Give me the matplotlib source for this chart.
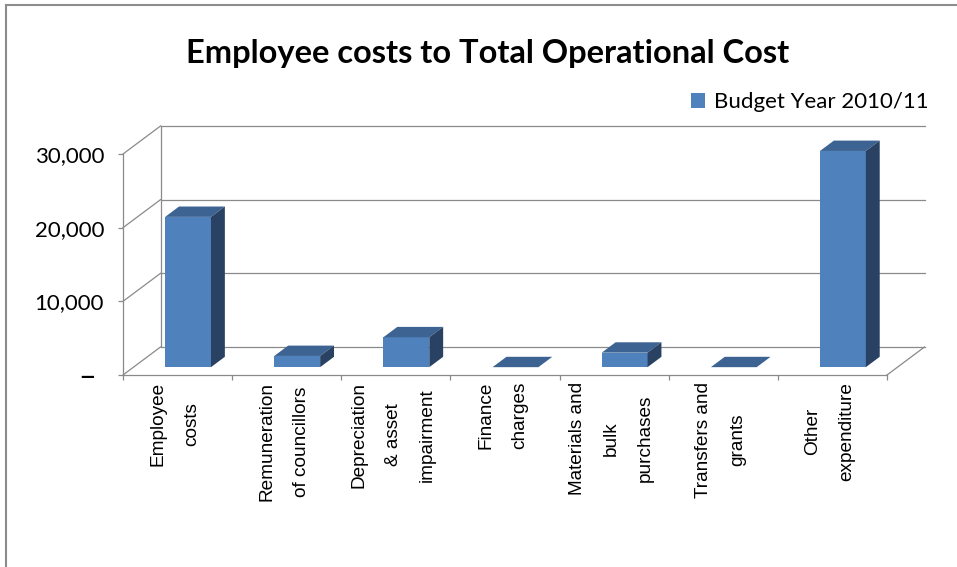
import numpy as np
import matplotlib.pyplot as plt
from matplotlib.patches import Polygon
from matplotlib.lines import Line2D

categories = ["Employee\ncosts", "Remuneration\nof councillors",
              "Depreciation\n& asset\nimpairment", "Finance\ncharges",
              "Materials and\nbulk\npurchases", "Transfers and\ngrants",
              "Other\nexpenditure"]
budget_2010_11 = [20400, 1520, 4060, 0, 1970, 0, 29350]
y_ticks = [0, 10000, 20000, 30000]
y_ticklabels = ["– ", "10,000", "20,000", "30,000"]

FRONT = "#4F81BD"
TOP = "#3C6391"
SIDE = "#294263"
GRID = "#8a8a8a"

W, H = 957, 567
fig = plt.figure(figsize=(W / 100, H / 100), dpi=100)
ax = fig.add_axes([123 / W, 1 - 375 / H, 764 / W, 221 / H])
n = len(categories)
ax.set_xlim(0, n)
ax.set_ylim(0, 30000)

# depth of the fake 3d box, in data units
DX = 37.5 / (764 / n)
DY = 28 / 221 * 30000

# back wall gridlines and left wall diagonals
for v in y_ticks:
    ax.add_line(Line2D([DX, n + DX], [v + DY, v + DY], color=GRID, lw=0.9, clip_on=False))
    ax.add_line(Line2D([0, DX], [v, v + DY], color=GRID, lw=0.9, clip_on=False))
ax.add_line(Line2D([DX, DX], [DY, 30000 + DY], color=GRID, lw=0.9, clip_on=False))
ax.add_line(Line2D([n, n + DX], [0, DY], color=GRID, lw=0.9, clip_on=False))

# bars: front face from ax.bar, top and side faces as polygons
w = 0.42
z0, d = 0.28, 0.37
xs = np.arange(n) + 0.5 + z0 * DX
bars = ax.bar(xs, budget_2010_11, width=w, bottom=z0 * DY, color=FRONT,
              label="Budget Year 2010/11", zorder=3, clip_on=False)
for x, v in zip(xs, budget_2010_11):
    xl, xr = x - w / 2, x + w / 2
    yb, yt = z0 * DY, z0 * DY + v
    ax.add_patch(Polygon([(xl, yt), (xr, yt), (xr + d * DX, yt + d * DY),
                          (xl + d * DX, yt + d * DY)], closed=True,
                         facecolor=TOP, edgecolor="none", zorder=3, clip_on=False))
    if v > 0:
        ax.add_patch(Polygon([(xr, yb), (xr, yt), (xr + d * DX, yt + d * DY),
                              (xr + d * DX, yb + d * DY)], closed=True,
                             facecolor=SIDE, edgecolor="none", zorder=3, clip_on=False))

# front axes
for s in ["top", "right"]:
    ax.spines[s].set_visible(False)
for s in ["left", "bottom"]:
    ax.spines[s].set_color(GRID)
    ax.spines[s].set_linewidth(0.9)
ax.patch.set_visible(False)
ax.set_yticks(y_ticks)
ax.set_yticklabels(y_ticklabels, fontsize=16, family="Lato")
ax.get_yticklabels()[0].set_fontsize(22)
ax.set_xticks(np.arange(n + 1))
ax.set_xticklabels([])
ax.tick_params(axis="both", direction="out", length=3.6, width=0.9, color=GRID)
ax.tick_params(axis="y", pad=10)

for i, lab in enumerate(categories):
    ax.text(i + 0.477, -950, lab, rotation=90, ha="center", va="top",
            multialignment="center", linespacing=2.3, fontsize=13.7,
            family="Liberation Sans")

fig.text(488 / W, 1 - 53 / H, "Employee costs to Total Operational Cost",
         ha="center", va="center", fontsize=23.5, fontweight="bold", family="Lato")
ax.legend(handles=[bars], frameon=False, loc="center left",
          bbox_to_anchor=(691 / W, 1 - 102 / H), bbox_transform=fig.transFigure,
          handlelength=0.65, handleheight=0.65, handletextpad=0.4,
          borderpad=0, borderaxespad=0, prop={"family": "Lato", "size": 16})

# chart frame
fig.add_artist(Line2D([6 / W, 6 / W], [0, 1 - 5 / H], color="#8c8c8c", lw=1.5))
fig.add_artist(Line2D([6 / W, 1], [1 - 5 / H, 1 - 5 / H], color="#8c8c8c", lw=1.5))

fig.savefig("out.png", dpi=100)
